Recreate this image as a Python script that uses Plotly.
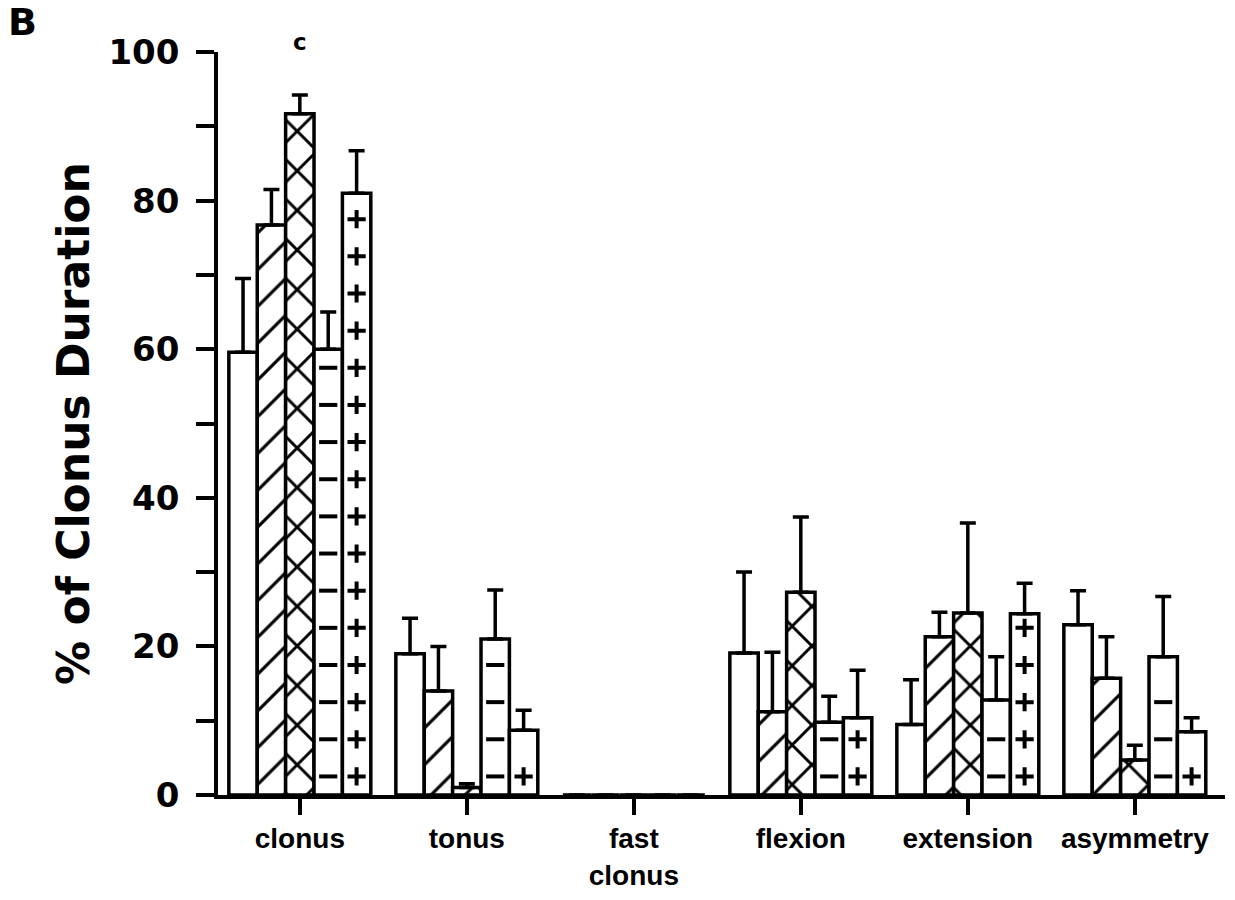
import numpy as np
import plotly.graph_objects as go

# Behaviour categories along the x axis
categories = ["clonus", "tonus", "fast<br>clonus", "flexion", "extension", "asymmetry"]

# Group means (% of clonus duration), one list per treatment group
group_a = [59.6, 19.0, 0.0, 19.1, 9.5, 22.9]
group_b = [76.7, 14.0, 0.0, 11.2, 21.3, 15.7]
group_c = [91.7, 1.0, 0.0, 27.3, 24.5, 4.7]
group_d = [60.0, 21.0, 0.0, 9.8, 12.8, 18.6]
group_e = [81.0, 8.7, 0.0, 10.4, 24.4, 8.5]

# Upper ends of the error bars (mean + SEM)
upper_a = [69.5, 23.8, 0.0, 30.0, 15.5, 27.5]
upper_b = [81.5, 20.0, 0.0, 19.2, 24.6, 21.3]
upper_c = [94.2, 1.5, 0.0, 37.4, 36.6, 6.7]
upper_d = [65.0, 27.6, 0.0, 13.3, 18.6, 26.7]
upper_e = [86.7, 11.4, 0.0, 16.8, 28.5, 10.4]

y_ticks = [0, 20, 40, 60, 80, 100]

# Layout constants
M_L, M_R, M_T, M_B = 218, 10, 52, 105
W, H = 1235, 900
BAR_W = 0.17
LINE_W = 3.5
AXIS_FONT = "DejaVu Sans"
CAT_FONT = "Liberation Sans, Arial, sans-serif"

# (means, upper ends, fill style, pattern tile size, pattern solidity)
series = [
    (group_a, upper_a, "", 20, 0.1),
    (group_b, upper_b, "/", 26, 0.12),
    (group_c, upper_c, "x", 28, 0.2),
    (group_d, upper_d, "dash", 20, 0.1),
    (group_e, upper_e, "plus", 20, 0.1),
]

idx = np.arange(len(categories))
fig = go.Figure()

for j, (means, uppers, style, psize, psol) in enumerate(series):
    means = np.array(means)
    uppers = np.array(uppers)
    xs = idx + (j - 2) * BAR_W
    shape = style if style in ("", "/", "x") else ""
    fig.add_trace(go.Bar(
        x=xs, y=means, width=BAR_W,
        marker=dict(
            color="white",
            line=dict(color="black", width=LINE_W),
            pattern=dict(shape=shape, fgcolor="black", bgcolor="white",
                         size=psize, solidity=psol, fillmode="replace"),
        ),
        error_y=dict(type="data", symmetric=False,
                     array=uppers - means, arrayminus=np.zeros_like(means),
                     color="black", thickness=LINE_W, width=8),
        cliponaxis=False,
        hoverinfo="skip",
    ))
    # Short dash / plus glyphs stacked inside the bar, every 5 units
    if style in ("dash", "plus"):
        gx, gy = [], []
        for x0, v in zip(xs, means):
            for yy in np.arange(2.5, v - 1.5, 5.0):
                gx.append(x0)
                gy.append(yy)
        fig.add_trace(go.Scatter(
            x=gx, y=gy, mode="markers",
            marker=dict(symbol="line-ew" if style == "dash" else "cross-thin",
                        size=13,
                        line=dict(color="black", width=4)),
            cliponaxis=False, hoverinfo="skip",
        ))

pw = W - M_L - M_R
ph = H - M_T - M_B

# Significance letter above the clonus bar of group C
fig.add_annotation(x=idx[0], xref="x", yref="paper", y=1 + 10 / ph,
                   yanchor="middle", text="c", showarrow=False,
                   font=dict(family=AXIS_FONT, size=23, color="black", weight="bold"))

# Panel letter in the top-left corner
fig.add_annotation(xref="paper", yref="paper",
                   x=(6 - M_L) / pw, y=1 + (M_T + 2) / ph, xanchor="left", yanchor="top",
                   text="B", showarrow=False,
                   font=dict(family=AXIS_FONT, size=38, color="black", weight="bold"))

fig.update_layout(
    width=W, height=H,
    margin=dict(l=M_L, r=M_R, t=M_T, b=M_B),
    plot_bgcolor="white", paper_bgcolor="white",
    showlegend=False, barmode="overlay",
    xaxis=dict(
        range=[-0.49, 5.54],
        tickmode="array", tickvals=idx, ticktext=categories,
        showline=True, linecolor="black", linewidth=LINE_W,
        ticks="outside", ticklen=16, tickwidth=LINE_W, tickcolor="black",
        showgrid=False, zeroline=False,
        tickfont=dict(family=CAT_FONT, size=28, color="black", weight="bold"),
    ),
    yaxis=dict(
        range=[0, 100],
        tickmode="array", tickvals=y_ticks,
        showline=True, linecolor="black", linewidth=LINE_W,
        ticks="outside", ticklen=18, tickwidth=LINE_W, tickcolor="black",
        minor=dict(dtick=10, ticks="outside", ticklen=18, tickwidth=LINE_W, tickcolor="black"),
        showgrid=False, zeroline=False,
        ticklabelstandoff=10,
        tickfont=dict(family=AXIS_FONT, size=34, color="black", weight="bold"),
        title=dict(text="% of Clonus Duration", standoff=6,
                   font=dict(family=AXIS_FONT, size=44, color="black", weight="bold")),
    ),
)

fig.write_html("out.html")
